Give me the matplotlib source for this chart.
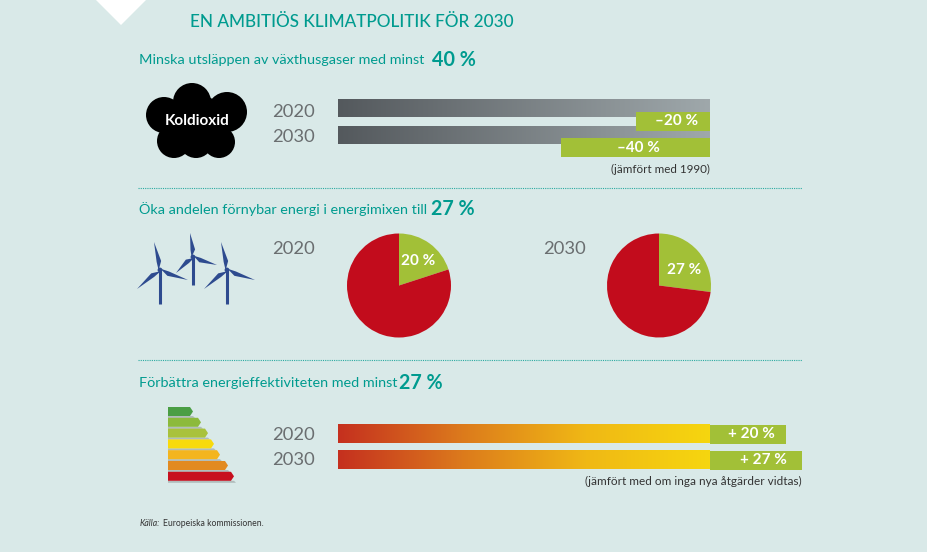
import numpy as np
import matplotlib.pyplot as plt
from matplotlib.colors import LinearSegmentedColormap
from matplotlib.patches import Circle, Polygon

plt.rcParams['font.family'] = ['Lato', 'DejaVu Sans']

years = ['2020', '2030']
co2_cut = [20, 40]
co2_labels = ['–20 %', '–40 %']
renewable_share = [20, 27]
renewable_labels = ['20 %', '27 %']
# length of the green end pieces as drawn, in % of the full bar
efficiency_gain = [20.5, 24.8]
efficiency_labels = ['+ 20 %', '+ 27 %']
energy_class_len = [25, 33, 40, 46, 52, 60, 66]
energy_class_colors = ['#4a9e44', '#8cba3c', '#a9c23c', '#f8da0c', '#f3b51e', '#e28a20', '#c70f1e']

bg = '#d9e9e8'
teal = '#009b8f'
green = '#a2c037'
red = '#c20c1c'
grey_text = '#6a6e70'
blue = '#2e4b8f'

W, H = 928, 552
fig = plt.figure(figsize=(W / 100, H / 100), dpi=100, facecolor=bg)
ax = fig.add_axes([0, 0, 1, 1])


def reset_ax():
    ax.set_xlim(0, W)
    ax.set_ylim(H, 0)
    ax.axis('off')


def gradient(x0, x1, y0, y1, cmap):
    ax.imshow(np.linspace(0, 1, 256).reshape(1, -1), extent=[x0, x1, y1, y0],
              cmap=cmap, aspect='auto', zorder=1, interpolation='bilinear')


reset_ax()
ax.add_patch(Polygon([(96, 0), (146, 0), (121, 25)], color='white', lw=0))

# headings
ax.text(190, 22, 'EN AMBITIÖS KLIMATPOLITIK FÖR 2030', color=teal, fontsize=12.3,
        fontweight='medium', va='center')
headings = [('Minska utsläppen av växthusgaser med minst', '40 %', 60, 432),
            ('Öka andelen förnybar energi i energimixen till', '27 %', 209, 431),
            ('Förbättra energieffektiviteten med minst', '27 %', 383, 399)]
for txt, bold, y, xb in headings:
    ax.text(139, y, txt, color=teal, fontsize=10.4, va='center')
    ax.text(xb, y, bold, color=teal, fontsize=14.2, fontweight='bold', va='center')

for y in [188, 360]:
    ax.plot([138, 802], [y, y], color=teal, lw=0.8, ls=(0, (1, 1)), alpha=0.8)

# scale of the bars: 100 % = 372 px
bar_x0, bar_x1 = 338, 710
px = (bar_x1 - bar_x0) / 100

# CO2 bars
grey_cmap = LinearSegmentedColormap.from_list('g', ['#54595d', '#9fa8ab'])
grey_y = [(99, 117), (126, 144)]
green_y = [(112, 130.5), (138, 157)]
for i, val in enumerate(co2_cut):
    gradient(bar_x0, bar_x1, grey_y[i][0], grey_y[i][1], grey_cmap)
    y0, y1 = green_y[i]
    ax.barh((y0 + y1) / 2, val * px, y1 - y0, left=bar_x1 - val * px, color=green, zorder=2)
    ax.text(bar_x1 - 12 - i * 38, (y0 + y1) / 2, co2_labels[i], color='white', fontsize=11,
            fontweight='bold', ha='right', va='center', zorder=3)
ax.text(710, 169, '(jämfört med 1990)', color='#333333', fontsize=8.4, ha='right', va='center')

# cloud
for cx, cy, r in [(164, 115, 18), (192, 102, 19), (227, 112, 20), (174, 141, 17), (219, 142, 16),
                  (196, 141, 17), (195, 121, 28)]:
    ax.add_patch(Circle((cx, cy), r, color='black', lw=0))
ax.text(197, 121, 'Koldioxid', color='white', fontsize=11, fontweight='bold', ha='center',
        va='center')


# wind turbines
def turbine(x, y, bottom, tips):
    ax.plot([x, x], [y, bottom], color=blue, lw=2.2, solid_capstyle='butt')
    for dx, dy in tips:
        d = np.array([dx, dy], dtype=float)
        n = np.array([-d[1], d[0]]) / np.hypot(dx, dy)
        p = np.array([x, y])
        ax.add_patch(Polygon([p - n * 1.4, p + d * 0.3 + n * 3.0, p + d,
                              p + d * 0.3 - n * 1.6], color=blue, lw=0))
    ax.add_patch(Circle((x, y), 2.4, color=blue, lw=0))


turbine(160, 270, 304, [(-6, -28), (28, 10), (-23, 19)])
turbine(193, 257, 285, [(-3, -24), (24, 8), (-17, 16)])
turbine(227, 270, 304, [(-6, -28), (28, 10), (-23, 19)])

# energy class pictogram
y = 407
for length, col in zip(energy_class_len, energy_class_colors):
    x0, x1 = 168, 168 + length
    ax.add_patch(Polygon([(x0, y + 9), (x1, y + 9), (x1 + 2, y + 11), (x0, y + 11)],
                         color='#555555', alpha=0.3, lw=0))
    ax.add_patch(Polygon([(x0, y), (x1 - 3, y), (x1, y + 4.5), (x1 - 3, y + 9), (x0, y + 9)],
                         color=col, lw=0))
    y += 10.8

# year labels
for yr, y in zip(years, [112, 137]):
    ax.text(272, y, yr, color=grey_text, fontsize=13.2, va='center')
ax.text(272, 249, years[0], color=grey_text, fontsize=13.2, va='center')
ax.text(543, 249, years[1], color=grey_text, fontsize=13.2, va='center')
for yr, y in zip(years, [435, 460]):
    ax.text(272, y, yr, color=grey_text, fontsize=13.2, va='center')

# efficiency bars
warm_cmap = LinearSegmentedColormap.from_list('w', ['#c5301f', '#dc7a1c', '#f0b815', '#f6d60f'])
eff_y = [(424.5, 443.5), (450.5, 469.5)]
for i, val in enumerate(efficiency_gain):
    y0, y1 = eff_y[i]
    gradient(bar_x0, bar_x1, y0, y1, warm_cmap)
    ax.barh((y0 + y1) / 2, val * px, y1 - y0, left=bar_x1, color=green, zorder=2)
    ax.text(bar_x1 + val * px - 11 - 4 * i, (y0 + y1) / 2, efficiency_labels[i], color='white',
            fontsize=11, fontweight='bold', ha='right', va='center', zorder=3)
ax.text(802, 481, '(jämfört med om inga nya åtgärder vidtas)', color='#333333', fontsize=8.45,
        ha='right', va='center')

ax.text(140, 524, 'Källa:', color='#333333', fontsize=6.2, style='italic', va='center')
ax.text(163, 524, 'Europeiska kommissionen.', color='#333333', fontsize=6.2, va='center')
reset_ax()

# pies
pie_x = [399, 659]
pie_label_pos = [(0.37, 0.47), (0.48, 0.29)]
for cx, share, lab, (lx, ly) in zip(pie_x, renewable_share, renewable_labels, pie_label_pos):
    r = 52
    pax = fig.add_axes([(cx - r) / W, 1 - (285.5 + r) / H, 2 * r / W, 2 * r / H])
    pax.pie([share, 100 - share], colors=[green, red], startangle=90, counterclock=False,
            radius=1, wedgeprops={'linewidth': 0})
    pax.set_xlim(-1, 1)
    pax.set_ylim(-1, 1)
    pax.text(lx, ly, lab, color='white', fontsize=11, fontweight='bold', ha='center',
             va='center')

fig.savefig('out.png', dpi=100, facecolor=bg)
